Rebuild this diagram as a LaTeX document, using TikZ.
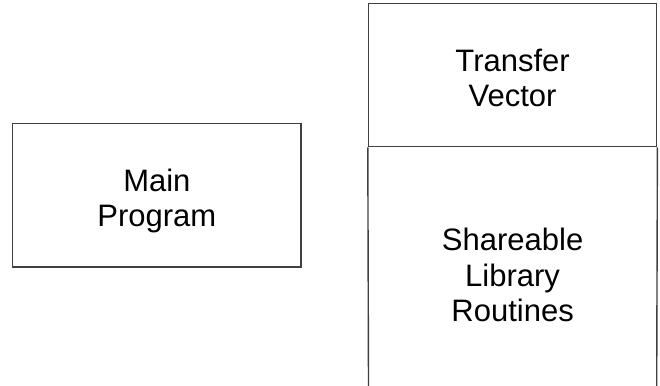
\documentclass[tikz,border=0pt]{standalone}
\usepackage{fontspec}
\setmainfont{Liberation Sans}
\begin{document}
\begin{tikzpicture}[x=1pt,y=-1pt,
  boxline/.style={draw=black!75,line width=1.4pt},
  lbl/.style={font=\fontsize{31}{35.5}\selectfont,align=center,inner sep=0pt}]
\useasboundingbox (0,0) rectangle (660,385);
% Main Program box
\node[boxline,minimum width=288.3pt,minimum height=143.7pt,inner sep=0pt] (mp) at (156.85,195.15) {};
\node[lbl] (mpt) at (156.85,201) {Main\\Program};
% Transfer Vector box
\node[boxline,minimum width=288.2pt,minimum height=143.4pt,inner sep=0pt] (tv) at (512.6,75) {};
\node[lbl] (tvt) at (512.6,78) {Transfer\\Vector};
% Shareable Library Routines (open at bottom)
\coordinate (bl) at (368.5,386);
\coordinate (br) at (656.7,386);
\draw[boxline] (tv.south west) -- (bl);
\draw[boxline] (tv.south east) -- (br);
\node[lbl] (slr) at (512.6,275) {Shareable\\Library\\Routines};
\end{tikzpicture}
\end{document}
